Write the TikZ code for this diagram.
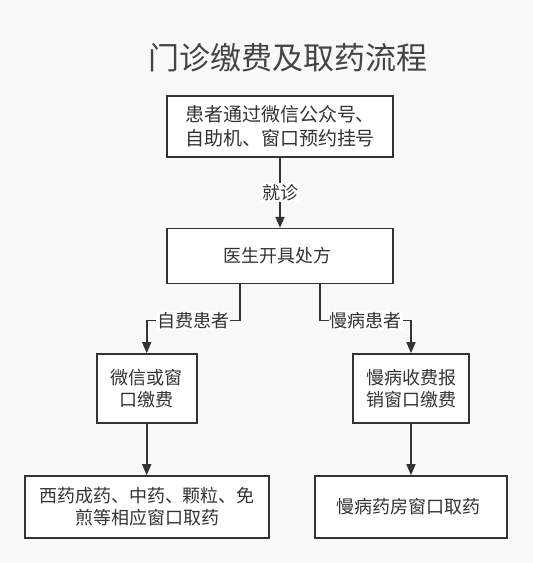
\documentclass[tikz,border=0pt]{standalone}
\usepackage{fontspec}
\setmainfont{Noto Sans CJK SC}
\usetikzlibrary{arrows.meta, positioning, calc}
\usepackage{xcolor}
\definecolor{Canvas}{RGB}{249, 249, 249}
\definecolor{Ink}{RGB}{51, 51, 51}
\definecolor{TitleInk}{RGB}{68, 68, 68}
\tikzset{
    box/.style={
        rectangle, draw=Ink, line width=1.6pt, fill=white,
        text=Ink, align=center, inner sep=0pt,
        font=\fontsize{18pt}{22pt}\selectfont
    },
    titlebox/.style={
        text=TitleInk, font=\fontsize{31pt}{36pt}\selectfont
    },
    tag/.style={
        fill=white, text=Ink, inner sep=1pt,
        font=\fontsize{18pt}{22pt}\selectfont
    },
    arrow/.style={
        line width=1.6pt, -{Triangle[length=11pt,width=9pt]}, color=Ink
    }
}
\begin{document}
\begin{tikzpicture}[x=1pt, y=-1pt]
    \fill[Canvas] (0,0) rectangle (533,563);
    \useasboundingbox (0,0) rectangle (533,563);

    % TITLE
    \node[titlebox] (title) at (288,58) {门诊缴费及取药流程};

    % REGISTRATION
    \node[box, minimum width=226pt, minimum height=61pt,
          font=\fontsize{19pt}{24pt}\selectfont] (reg) at (280,126.5) {
        患者通过微信公众号、\\自助机、窗口预约挂号
    };

    % PRESCRIPTION
    \node[box, minimum width=226pt, minimum height=55pt, below=70pt of reg] (rx) {
        医生开具处方
    };
    \draw[arrow] (reg.south) -- (rx.north) node[tag, midway] {就诊};

    % PAYMENT
    \node[box, minimum width=100pt, minimum height=69pt] (pay) at (146.7,388.5) {
        微信或窗\\口缴费
    };
    \node[box, minimum width=116pt, minimum height=69pt] (chronicpay) at (411,388.5) {
        慢病收费报\\销窗口缴费
    };
    \draw[arrow] ([xshift=-40pt]rx.south) -- ++(0,36) -| (pay.north)
        node[tag, pos=0.25] {自费患者};
    \draw[arrow] ([xshift=40pt]rx.south) -- ++(0,36) -| (chronicpay.north)
        node[tag, pos=0.25] {慢病患者};

    % PICK-UP
    \node[box, minimum width=244pt, minimum height=62pt] (pickup) at (147,507) {
        西药成药、中药、颗粒、免\\煎等相应窗口取药
    };
    \node[box, minimum width=192pt, minimum height=62pt] (chronicpickup) at (411,507) {
        慢病药房窗口取药
    };
    \draw[arrow] (pay.south) -- (pay.south |- pickup.north);
    \draw[arrow] (chronicpay.south) -- (chronicpickup.north);

\end{tikzpicture}
\end{document}
